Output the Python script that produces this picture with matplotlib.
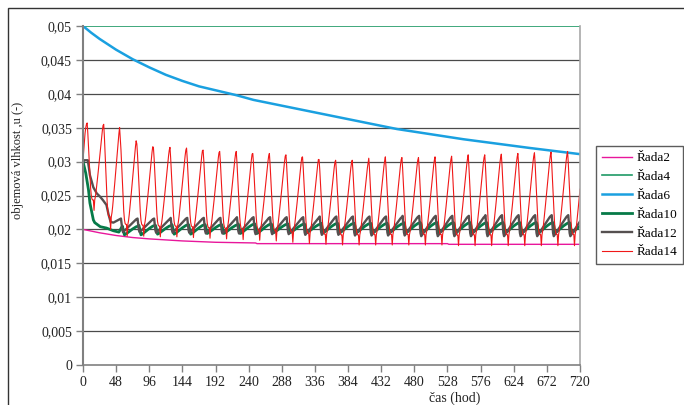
import matplotlib
matplotlib.use("Agg")
import matplotlib.pyplot as plt
from matplotlib.patches import Rectangle

plt.rcParams["font.family"] = ["Liberation Serif", "DejaVu Serif"]

# axis ticks
x_ticks = list(range(0, 721, 48))
y_ticks = [0, 0.005, 0.01, 0.015, 0.02, 0.025, 0.03, 0.035, 0.04, 0.045, 0.05]
y_tick_labels = ["0", "0,005", "0,01", "0,015", "0,02", "0,025", "0,03",
                 "0,035", "0,04", "0,045", "0,05"]

# Rada2 - slow decline
r2_t = [0, 24, 48, 72, 96, 144, 192, 250, 252, 528, 530, 720]
r2_v = [0.0200, 0.0195, 0.0191, 0.0188, 0.0186, 0.0183, 0.0181, 0.0180,
        0.0179, 0.0179, 0.0178, 0.0178]

# Rada4 - constant
r4_t = [0, 720]
r4_v = [0.05, 0.05]

# Rada6 - drying curve
r6_t = [0, 12, 24, 48, 72, 96, 120, 144, 168, 222, 247, 300, 358, 455, 551,
        648, 720]
r6_v = [0.0500, 0.0490, 0.0481, 0.0465, 0.0451, 0.0439, 0.0428, 0.0419,
        0.0411, 0.0398, 0.0391, 0.0380, 0.0368, 0.0348, 0.0333, 0.0320,
        0.0311]

# Rada10 - start of the record
r10_start_t = [0, 4, 8, 10, 13, 15, 17, 25, 34, 44, 52]
r10_start_v = [0.0300, 0.0283, 0.0258, 0.0239, 0.0224, 0.0214, 0.0210,
               0.0204, 0.0202, 0.0198, 0.0196]
# daily maxima / minima, day 0..29
r10_top = [0, 0, 0.0205, 0.0206, 0.0206, 0.0207, 0.0207, 0.0207, 0.0207,
           0.0208, 0.0208, 0.0208, 0.0208, 0.0208, 0.0209, 0.0209, 0.0209,
           0.0209, 0.0209, 0.0210, 0.0210, 0.0210, 0.0210, 0.0210, 0.0210,
           0.0210, 0.0210, 0.0210, 0.0210, 0.0210]
r10_bot = [0, 0, 0.0192, 0.0192, 0.0193, 0.0193, 0.0193, 0.0194, 0.0194,
           0.0194, 0.0194, 0.0195, 0.0195, 0.0195, 0.0195, 0.0195, 0.0195,
           0.0195, 0.0195, 0.0195, 0.0195, 0.0195, 0.0195, 0.0195, 0.0195,
           0.0195, 0.0195, 0.0195, 0.0195, 0.0195]
# hourly shape of one day, from the daily maximum
r10_shape = [1.0, 0.70, 0.30, 0.0, 0.04, 0.09, 0.14, 0.20, 0.26, 0.32, 0.38,
             0.44, 0.50, 0.56, 0.62, 0.67, 0.72, 0.77, 0.82, 0.87, 0.91, 0.94,
             0.97, 0.99]

# Rada12 - start of the record
r12_start_t = [0, 2, 7, 10, 15, 20, 25, 29, 34, 37, 40, 44]
r12_start_v = [0.0300, 0.0302, 0.0302, 0.0280, 0.0262, 0.0253, 0.0248,
               0.0243, 0.0236, 0.0222, 0.0211, 0.0210]
r12_top = [0, 0, 0.0216, 0.0216, 0.0216, 0.0217, 0.0217, 0.0217, 0.0217,
           0.0218, 0.0218, 0.0218, 0.0218, 0.0218, 0.0219, 0.0219, 0.0219,
           0.0219, 0.0219, 0.0220, 0.0220, 0.0220, 0.0220, 0.0220, 0.0221,
           0.0221, 0.0221, 0.0221, 0.0221, 0.0221]
r12_bot = [0, 0, 0.0196, 0.0196, 0.0195, 0.0195, 0.0195, 0.0194, 0.0194,
           0.0194, 0.0193, 0.0193, 0.0193, 0.0192, 0.0192, 0.0192, 0.0191,
           0.0191, 0.0191, 0.0191, 0.0190, 0.0190, 0.0190, 0.0190, 0.0190,
           0.0190, 0.0190, 0.0190, 0.0190, 0.0190]
r12_shape = [1.0, 0.55, 0.15, 0.0, 0.05, 0.10, 0.15, 0.20, 0.25, 0.30, 0.35,
             0.40, 0.45, 0.50, 0.55, 0.60, 0.65, 0.70, 0.75, 0.80, 0.85, 0.90,
             0.94, 0.97]

# Rada14 - strong daily swing
r14_start_t = [0, 1, 2, 3, 4, 5]
r14_start_v = [0.0302, 0.0315, 0.0330, 0.0342, 0.0350, 0.0355]
r14_top = [0.0357, 0.0355, 0.0335, 0.0326, 0.0321, 0.0321, 0.0320, 0.0317,
           0.0315, 0.0315, 0.0312, 0.0312, 0.0310, 0.0307, 0.0303, 0.0302,
           0.0302, 0.0305, 0.0307, 0.0306, 0.0306, 0.0307, 0.0308, 0.0310,
           0.0310, 0.0311, 0.0312, 0.0313, 0.0314, 0.0315]
r14_bot = [0.0228, 0.0200, 0.0190, 0.0190, 0.0189, 0.0189, 0.0188, 0.0187,
           0.0186, 0.0185, 0.0184, 0.0183, 0.0181, 0.0179, 0.0178, 0.0177,
           0.0177, 0.0177, 0.0177, 0.0177, 0.0177, 0.0177, 0.0176, 0.0176,
           0.0176, 0.0176, 0.0176, 0.0176, 0.0176, 0.0176]
r14_shape = [1.0, 0.88, 0.72, 0.55, 0.39, 0.26, 0.17, 0.13, 0.12, 0.12, 0.0,
             0.12, 0.16, 0.22, 0.29, 0.36, 0.44, 0.52, 0.60, 0.68, 0.76,
             0.84, 0.91, 0.97]


def daily(start_t, start_v, first_day, hour0, tops, bots, shape, t_end=720):
    t, v = list(start_t), list(start_v)
    for k in range(first_day, len(tops)):
        for i, s in enumerate(shape):
            tt = 24 * k + hour0 + i
            if tt > t_end:
                break
            t.append(tt)
            v.append(bots[k] + (tops[k] - bots[k]) * s)
    return t, v


r10_t, r10_v = daily(r10_start_t, r10_start_v, 2, 9, r10_top, r10_bot, r10_shape)
r12_t, r12_v = daily(r12_start_t, r12_start_v, 2, 7, r12_top, r12_bot, r12_shape)
r14_t, r14_v = daily(r14_start_t, r14_start_v, 0, 6, r14_top, r14_bot, r14_shape)

fig = plt.figure(figsize=(6.84, 4.05), dpi=100)
ax = fig.add_axes([83 / 684, 40 / 405, 497 / 684, 339 / 405])

for y in y_ticks[1:-1]:
    ax.axhline(y, color="#4a4a4a", lw=0.9, zorder=0)

ax.plot(r2_t, r2_v, color="#e8179b", lw=1.0, label="Řada2")
ax.plot(r4_t, r4_v, color="#1f9a66", lw=1.2, label="Řada4")
ax.plot(r6_t, r6_v, color="#1aa0e0", lw=1.8, label="Řada6")
ax.plot(r10_t, r10_v, color="#067a48", lw=2.0, label="Řada10")
ax.plot(r12_t, r12_v, color="#555050", lw=1.7, label="Řada12")
ax.plot(r14_t, r14_v, color="#f01818", lw=0.8, label="Řada14")

ax.set_xlim(0, 720)
ax.set_ylim(0, 0.05)
ax.set_xticks(x_ticks)
ax.set_xticklabels([str(x) for x in x_ticks])
ax.set_yticks(y_ticks)
ax.set_yticklabels(y_tick_labels)
ax.tick_params(direction="out", length=5, width=1, color="#808080",
               labelsize=10, labelcolor="#222222", pad=3)

ax.spines["top"].set_visible(False)
ax.spines["left"].set_color("#808080")
ax.spines["left"].set_linewidth(1.5)
ax.spines["bottom"].set_color("#808080")
ax.spines["bottom"].set_linewidth(1.2)
ax.spines["right"].set_color("#a8a8a8")
ax.spines["right"].set_linewidth(1.2)

fig.text(18 / 684, 1 - 160 / 405, "objemová vlhkost ,u (-)", rotation=90,
         ha="center", va="center", fontsize=9, color="#222222")
fig.text(455 / 684, 1 - 398 / 405, "čas (hod)", ha="center", va="center",
         fontsize=10, color="#222222")

fig.legend(loc="upper left", bbox_to_anchor=(596 / 684, 1 - 146 / 405),
           frameon=True, fancybox=False, edgecolor="#333333",
           borderaxespad=0, fontsize=9.5, handlelength=2.3,
           handletextpad=0.3, labelspacing=0.5, borderpad=0.45)

# outer chart frame
fig.patches.append(Rectangle((8 / 684, -0.05), 1.0, 1 - 8 / 405 + 0.05,
                             transform=fig.transFigure, fill=False,
                             edgecolor="#333333", lw=1.0))

fig.savefig("out.png", dpi=100)
